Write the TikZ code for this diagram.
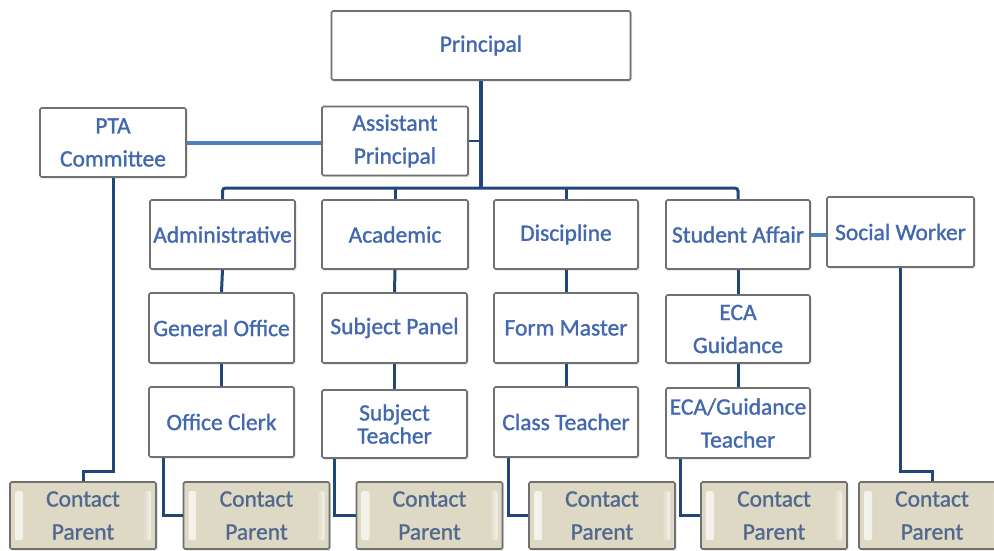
\documentclass[tikz,border=0pt]{standalone}
\usepackage{fontspec}
\setmainfont{Carlito}[BoldFont=Carlito, BoldFeatures={FakeBold=1.2}]
\usetikzlibrary{shadows,calc}
\definecolor{navy}{RGB}{32,70,122}
\definecolor{lightline}{RGB}{79,129,189}
\definecolor{boxtext}{RGB}{66,104,176}
\definecolor{cptext}{RGB}{82,104,142}
\definecolor{cpfill}{RGB}{221,217,196}
\definecolor{boxline}{RGB}{112,112,112}
\tikzset{
  orgbox/.style={draw=boxline, line width=1.6pt, fill=white, rounded corners=1.5pt,
    inner sep=0pt, align=center, text=boxtext,
    font=\fontsize{23.5}{33}\selectfont\bfseries,
    drop shadow={shadow xshift=1.5pt, shadow yshift=-1.5pt, fill=black!20, opacity=0.6}},
  cpbox/.style={draw=boxline, line width=1.6pt, fill=cpfill, rounded corners=1.5pt,
    inner sep=0pt, align=center, text=cptext, minimum width=146pt, minimum height=67pt,
    font=\fontsize{23.5}{33}\selectfont\bfseries,
    drop shadow={shadow xshift=1.5pt, shadow yshift=-1.5pt, fill=black!20, opacity=0.6},
    path picture={
      \shade[left color=white, right color=cpfill, opacity=0.7]
        ([xshift=5pt,yshift=-9pt]path picture bounding box.north west) rectangle
        ([xshift=13pt,yshift=9pt]path picture bounding box.south west);
      \shade[left color=cpfill, right color=white, opacity=0.7]
        ([xshift=-13pt,yshift=-9pt]path picture bounding box.north east) rectangle
        ([xshift=-5pt,yshift=9pt]path picture bounding box.south east);
    }},
  conn/.style={draw=navy, line width=3pt},
  side/.style={draw=lightline, line width=4pt},
}
\begin{document}
\begin{tikzpicture}[x=1pt,y=-1pt]
\useasboundingbox (0,0) rectangle (994,550);
\clip (0,0) rectangle (994,550);

% top levels
\node[orgbox, minimum width=299pt, minimum height=69pt] (principal) at (481,45.5) {Principal};
\node[orgbox, minimum width=146pt, minimum height=69pt] (ap) at (395,141) {Assistant\\Principal};
\node[orgbox, minimum width=146pt, minimum height=69pt] (pta) at (113,142.5) {PTA\\Committee};

% row 2
\node[orgbox, minimum width=145pt, minimum height=69pt] (adm) at (222.5,234.5) {Administrative};
\node[orgbox, minimum width=146pt, minimum height=69pt] (aca) at (395,234.5) {Academic};
\node[orgbox, minimum width=144pt, minimum height=69pt] (dis) at (566,234.5) {Discipline};
\node[orgbox, minimum width=144pt, minimum height=69pt] (stu) at (738,234.5) {Student Affair};
\node[orgbox, minimum width=147pt, minimum height=70pt] (soc) at (900.5,232) {Social Worker};

% row 3
\node[orgbox, minimum width=145pt, minimum height=70pt] (gen) at (221.5,328) {General Office};
\node[orgbox, minimum width=145pt, minimum height=70pt] (sub) at (394.5,328) {Subject Panel};
\node[orgbox, minimum width=144pt, minimum height=70pt] (frm) at (566,328) {Form Master};
\node[orgbox, minimum width=144pt, minimum height=68pt] (eca) at (738,329) {ECA\\Guidance};

% row 4
\node[orgbox, minimum width=145pt, minimum height=70pt] (clk) at (221.5,422) {Office Clerk};
\node[orgbox, minimum width=145pt, minimum height=68pt, font=\fontsize{23.5}{23}\selectfont\bfseries] (stt) at (394.5,424) {Subject\\Teacher};
\node[orgbox, minimum width=144pt, minimum height=70pt] (clt) at (566,422) {Class Teacher};
\node[orgbox, minimum width=144pt, minimum height=70pt] (egt) at (738,423) {ECA/Guidance\\Teacher};

% contact parents
\node[cpbox] (cp1) at (83,515.5) {Contact\\Parent};
\node[cpbox] (cp2) at (256.5,515.5) {Contact\\Parent};
\node[cpbox] (cp3) at (429.5,515.5) {Contact\\Parent};
\node[cpbox] (cp4) at (602,515.5) {Contact\\Parent};
\node[cpbox] (cp5) at (774,515.5) {Contact\\Parent};
\node[cpbox] (cp6) at (932,515.5) {Contact\\Parent};

% connectors
\draw[conn, line width=3.4pt] (principal.south) -- (principal.south |- 0,188);
\draw[conn, line width=2.2pt] (ap.east) -- (ap.east -| principal.south);
\draw[conn, rounded corners=3pt] (adm.north) -- (adm.north |- 0,188) -- (stu.north |- 0,188) -- (stu.north);
\draw[conn] (aca.north) -- (aca.north |- 0,188);
\draw[conn] (dis.north) -- (dis.north |- 0,188);

\draw[side] (pta.east) -- (pta.east -| ap.west);
\draw[side] (stu.east) -- (stu.east -| soc.west);

\draw[conn] (adm.south) -- (gen.north);
\draw[conn] (gen.south) -- (clk.north);
\draw[conn] (aca.south) -- (sub.north);
\draw[conn] (sub.south) -- (stt.north);
\draw[conn] (dis.south) -- (frm.north);
\draw[conn] (frm.south) -- (clt.north);
\draw[conn] (stu.south) -- (eca.north);
\draw[conn] (eca.south) -- (egt.north);

\draw[conn] (pta.south) -- (pta.south |- 0,471) -| (cp1.north);
\draw[conn] (soc.south) -- (soc.south |- 0,471) -| (cp6.north);
\draw[conn] ([xshift=15pt]clk.south west) |- (cp2.west);
\draw[conn] ([xshift=13pt]stt.south west) |- (cp3.west);
\draw[conn] ([xshift=15pt]clt.south west) |- (cp4.west);
\draw[conn] ([xshift=15pt]egt.south west) |- (cp5.west);
\end{tikzpicture}
\end{document}
